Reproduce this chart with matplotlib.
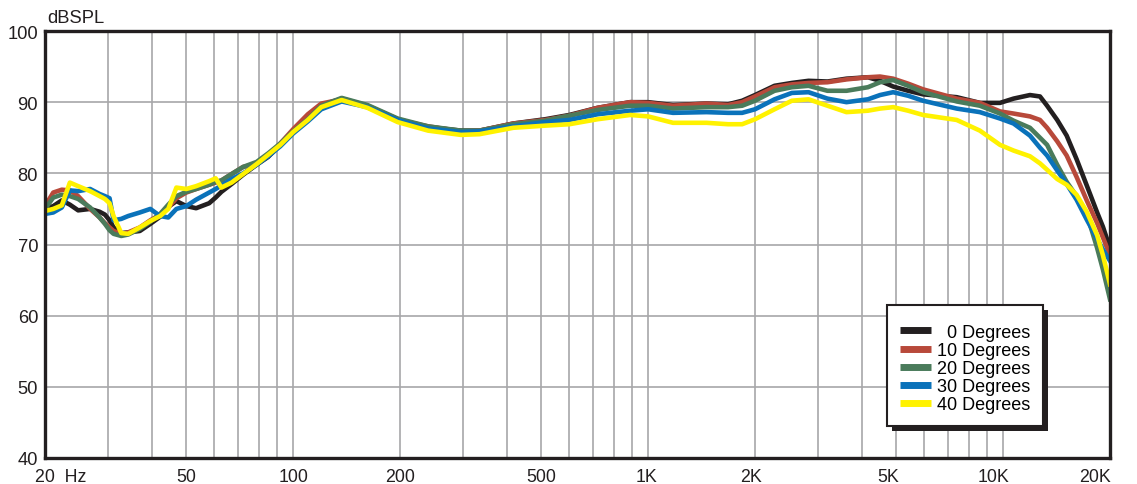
import numpy as np
from matplotlib import pyplot as plt
from matplotlib.ticker import FixedLocator, NullFormatter, NullLocator
from matplotlib.transforms import ScaledTranslation, IdentityTransform
from matplotlib.patches import Rectangle

plt.rcParams['font.family'] = ['Liberation Sans', 'DejaVu Sans']

# frequencias (Hz) comuns a todas as curvas
freq = [20, 21.1, 22.3, 23.5, 24.8, 26.8, 28.5, 29.5, 30.4, 31.2, 32.8, 34.3, 37,
        39.6, 42.2, 44.5, 46.9, 50, 53.3, 58, 60.5, 62.8, 67.1, 72.3, 78.9,
        85, 92, 100, 110, 120, 137, 162, 197, 240, 297, 335, 417, 513, 600, 720,
        890, 1000, 1175, 1460, 1680, 1840, 2000, 2270, 2540, 2830, 3200, 3620,
        4160, 4500, 4900, 5400, 5950, 7400, 8600, 9800, 10700, 11900, 12700,
        13300, 14200, 15100, 16100, 17200, 18400, 19100, 20000]

spl_0 = [75.0, 75.4, 76.2, 75.6, 74.8, 75.0, 74.6, 74.2, 73.4, 72.4, 71.6, 71.7, 71.9,
         72.9, 73.9, 75.3, 76.1, 75.4, 75.1, 75.8, 76.6, 77.4, 78.5, 79.8, 81.2,
         82.3, 84.0, 85.8, 87.8, 89.5, 90.5, 89.5, 87.6, 86.5, 86.0, 86.0, 87.0, 87.6, 88.2, 89.2,
         90.0, 90.0, 89.6, 89.8, 89.7, 90.2, 91.0, 92.3, 92.7, 93.0, 92.9, 93.3,
         93.5, 93.0, 92.2, 91.6, 91.1, 90.7, 89.9, 89.9, 90.5, 91.0, 90.8,
         89.5, 87.5, 85.3, 82.0, 78.3, 74.5, 72.5, 69.5]

spl_10 = [75.4, 77.3, 77.7, 77.6, 76.8, 75.0, 73.8, 73.0, 72.4, 71.9, 71.5, 71.7, 72.4,
          73.4, 74.2, 75.2, 76.5, 77.3, 77.8, 78.4, 78.7, 79.0, 79.9, 80.9, 81.3,
          82.5, 84.2, 86.2, 88.3, 89.8, 90.4, 89.3, 87.5, 86.6, 85.9, 86.0, 87.0, 87.5, 88.1, 89.2,
          90.0, 89.9, 89.5, 89.8, 89.6, 90.0, 90.8, 92.1, 92.5, 92.7, 92.8, 93.2,
          93.5, 93.6, 93.3, 92.6, 91.8, 90.5, 89.9, 88.7, 88.4, 88.0, 87.5,
          86.4, 84.5, 82.5, 79.5, 76.2, 73.0, 71.0, 68.5]

spl_20 = [75.0, 76.6, 77.0, 76.8, 76.4, 75.2, 73.8, 72.9, 72.0, 71.5, 71.2, 71.4, 72.2,
          73.2, 74.3, 75.6, 76.8, 77.4, 77.8, 78.4, 78.8, 79.0, 79.9, 80.9, 81.6,
          82.8, 84.2, 85.9, 87.6, 89.5, 90.6, 89.6, 87.7, 86.6, 86.0, 86.0, 86.9, 87.4, 88.1, 88.9,
          89.5, 89.5, 89.1, 89.3, 89.3, 89.5, 90.2, 91.6, 92.1, 92.3, 91.6, 91.6,
          92.1, 92.8, 93.1, 92.3, 91.4, 90.1, 89.5, 88.4, 87.4, 86.4, 85.0,
          84.0, 81.2, 78.8, 76.8, 74.3, 69.5, 66.5, 62.3]

spl_30 = [74.3, 74.5, 75.2, 77.6, 77.5, 77.8, 77.1, 76.8, 76.5, 73.4, 73.6, 74.0, 74.5,
          75.0, 74.0, 73.8, 75.0, 75.4, 76.3, 77.3, 77.8, 78.3, 79.2, 80.0, 81.2,
          82.4, 83.8, 85.6, 87.3, 89.0, 90.1, 89.3, 87.5, 86.3, 85.8, 85.9, 86.6, 87.2, 87.5, 88.3,
          88.8, 89.0, 88.5, 88.6, 88.5, 88.5, 89.0, 90.4, 91.3, 91.4, 90.5, 90.0,
          90.4, 91.0, 91.4, 90.9, 90.2, 89.1, 88.6, 87.7, 87.0, 85.3, 83.6,
          82.5, 80.4, 78.5, 76.3, 73.5, 70.8, 69.3, 67.7]

spl_40 = [74.7, 75.0, 75.5, 78.7, 78.2, 77.5, 76.8, 76.4, 75.8, 74.0, 71.6, 71.5, 72.4,
          73.3, 74.0, 75.0, 78.0, 77.8, 78.2, 78.9, 79.3, 78.0, 78.7, 79.9, 81.3,
          82.6, 84.0, 85.8, 87.5, 89.3, 90.3, 89.2, 87.2, 86.0, 85.4, 85.5, 86.4, 86.7, 86.9, 87.6,
          88.2, 88.0, 87.1, 87.1, 86.9, 86.9, 87.6, 89.0, 90.2, 90.4, 89.5, 88.6,
          88.8, 89.1, 89.3, 88.8, 88.2, 87.5, 86.0, 84.0, 83.2, 82.4, 81.4,
          80.5, 79.2, 78.4, 77.0, 74.6, 71.3, 68.5, 64.4]

curvas = [spl_0, spl_10, spl_20, spl_30, spl_40]
rotulos = ['  0 Degrees', '10 Degrees', '20 Degrees', '30 Degrees', '40 Degrees']
cores = ['#231f20', '#b8493a', '#4a7b5b', '#0a72ba', '#fff200']

grade_x = [20, 30, 40, 50, 60, 70, 80, 90, 100, 200, 300, 400, 500, 600, 700, 800, 900,
           1000, 2000, 3000, 4000, 5000, 6000, 7000, 8000, 9000, 10000, 20000]
ticks_x = [20, 50, 100, 200, 500, 1000, 2000, 5000, 10000, 20000]
nomes_x = ['20  Hz', '50', '100', '200', '500', '1K', '2K', '5K', '10K', '20K']
ticks_y = [40, 50, 60, 70, 80, 90, 100]

fig = plt.figure(figsize=(11.37, 4.85), dpi=100)
ax = fig.add_axes([45/1137, 26/485, 1065/1137, 427/485])

for y, cor, rot in zip(curvas, cores, rotulos):
    ax.semilogx(freq, y, color=cor, lw=3.3, label=rot, solid_joinstyle='round')

ax.set_xlim(20, 20000)
ax.set_ylim(40, 100)

# grade
for g in grade_x[1:-1]:
    ax.axvline(g, color='#a7a7a9', lw=1.2, zorder=0)
for g in ticks_y[1:-1]:
    ax.axhline(g, color='#a7a7a9', lw=1.2, zorder=0)

ax.xaxis.set_major_locator(FixedLocator(ticks_x))
ax.xaxis.set_minor_locator(NullLocator())
ax.xaxis.set_minor_formatter(NullFormatter())
ax.set_xticklabels(nomes_x, fontsize=12.8)
ax.set_yticks(ticks_y)
ax.set_yticklabels([str(v) for v in ticks_y], fontsize=13.2)
ax.tick_params(axis='both', length=0, colors='#231f20')
ax.tick_params(axis='x', pad=7)
ax.tick_params(axis='y', pad=5)

# deslocamentos dos rotulos do eixo x (em pixels), como no original
desloc = [0, 0, 0, 0, 0, -2, -4, -8, -10, -15]
for lbl, d in zip(ax.get_xticklabels(), desloc):
    lbl.set_transform(lbl.get_transform() + ScaledTranslation(d/100, 0, fig.dpi_scale_trans))
primeiro = ax.get_xticklabels()[0]
primeiro.set_ha('left')
primeiro.set_transform(primeiro.get_transform() + ScaledTranslation(-10/100, 0, fig.dpi_scale_trans))

for s in ax.spines.values():
    s.set_linewidth(2.4)
    s.set_color('#231f20')

ax.text(0.002, 1.012, 'dBSPL', transform=ax.transAxes, fontsize=13.2, color='#231f20',
        ha='left', va='bottom')

leg = ax.legend(loc='upper left', bbox_to_anchor=(0.791, 0.359), fontsize=13,
                title=' ', title_fontsize=4,
                frameon=True, fancybox=False, edgecolor='#231f20', framealpha=1,
                handlelength=1.7, handletextpad=0.3, labelspacing=0.06,
                borderpad=0.72, borderaxespad=0)
leg.get_frame().set_linewidth(1.5)
for l in leg.get_lines():
    l.set_linewidth(5)
    l.set_solid_capstyle('butt')

# sombra da legenda
fig.canvas.draw()
bb = leg.get_window_extent()
sombra = Rectangle((bb.x0 + 5, bb.y0 - 5), bb.width, bb.height, transform=IdentityTransform(),
                   facecolor='#231f20', edgecolor='none', zorder=4.9, clip_on=False)
ax.add_patch(sombra)

plt.savefig('out.png', dpi=100)
